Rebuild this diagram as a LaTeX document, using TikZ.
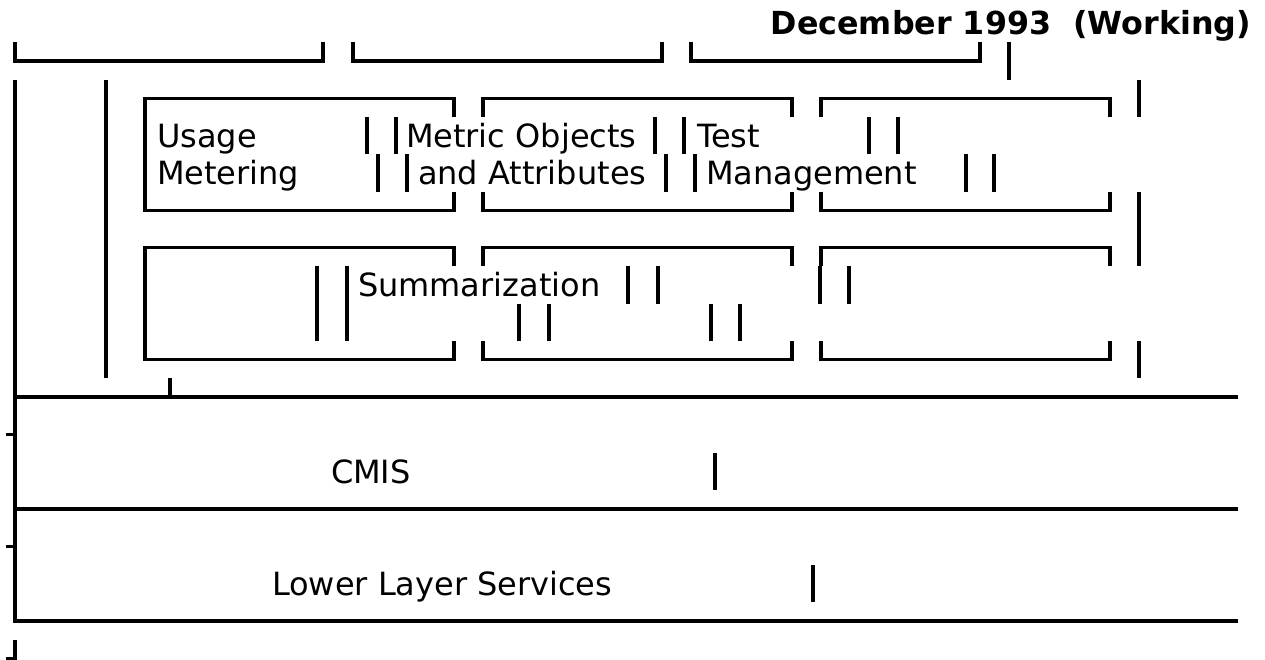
\documentclass[tikz,border=0pt]{standalone}
\usepackage{fontspec}
\setmainfont{DejaVu Sans}
\begin{document}
\begin{tikzpicture}[x=0.75pt,y=-0.75pt,
  ln/.style={line width=2.3pt,line join=miter},
  lbl/.style={inner sep=0pt,outer sep=0pt,anchor=base west,font=\fontsize{24}{28}\selectfont},
  ttl/.style={inner sep=0pt,outer sep=0pt,anchor=base east,font=\fontsize{23.8}{28}\selectfont\bfseries}]
\useasboundingbox (0,0) rectangle (1265,660);
% ---- texts
\node[ttl] (title) at (1251,35) {December 1993~~(Working)};
\node[lbl] (usage) at (157,147) {Usage};
\node[lbl] (metering) at (157,184.33) {Metering};
\node[lbl] (metric) at (406,147) {Metric Objects};
\node[lbl] (attr) at (418,184.33) {and Attributes};
\node[lbl] (test) at (697,147) {Test};
\node[lbl] (mgmt) at (706,184.33) {Management};
\node[lbl] (summ) at (358,296.33) {Summarization};
\node[lbl] (cmis) at (331,483) {CMIS};
\node[lbl] (lls) at (272,595) {Lower Layer Services};
% ---- top brackets
\draw[ln] (15,42.33) -- (15,61) -- (323,61) -- (323,42.33);
\draw[ln] (353,42.33) -- (353,61) -- (662,61) -- (662,42.33);
\draw[ln] (691,42.33) -- (691,61) -- (980,61) -- (980,42.33);
\draw[ln] (1009,42.33) -- (1009,79.67);
% ---- outer frame and layers
\draw[ln] (15,79.67) -- (15,621) -- (1238,621);
\draw[ln] (15,397) -- (1238,397);
\draw[ln] (15,509) -- (1238,509);
\draw[ln] (6,434.33) -- (15,434.33);
\draw[ln] (6,546.33) -- (15,546.33);
\draw[ln] (15,639.67) -- (15,658.33) -- (6,658.33);
\draw[ln] (106,79.67) -- (106,378.33);
\draw[ln] (1139,79.67) -- (1139,117);
\draw[ln] (1139,191.67) -- (1139,266.33);
\draw[ln] (1139,341) -- (1139,378.33);
\draw[ln] (170,378.33) -- (170,397);
% ---- upper row of boxes
\draw[ln] (454,117) -- (454,98.33) -- (145,98.33) -- (145,210.33) -- (454,210.33) -- (454,191.67);
\draw[ln] (483,117) -- (483,98.33) -- (792,98.33) -- (792,117);
\draw[ln] (483,191.67) -- (483,210.33) -- (792,210.33) -- (792,191.67);
\draw[ln] (821,117) -- (821,98.33) -- (1110,98.33) -- (1110,117);
\draw[ln] (821,191.67) -- (821,210.33) -- (1110,210.33) -- (1110,191.67);
% ---- lower row of boxes
\draw[ln] (454,266.33) -- (454,247.67) -- (145,247.67) -- (145,359.67) -- (454,359.67) -- (454,341);
\draw[ln] (483,266.33) -- (483,247.67) -- (792,247.67) -- (792,266.33);
\draw[ln] (483,341) -- (483,359.67) -- (792,359.67) -- (792,341);
\draw[ln] (821,266.33) -- (821,247.67) -- (1110,247.67) -- (1110,266.33);
\draw[ln] (821,341) -- (821,359.67) -- (1110,359.67) -- (1110,341);
% ---- stray bars
\foreach \x in {367,396,655,684,869,898} \draw[ln] (\x,117) -- (\x,154.33);
\foreach \x in {378,407,666,695,966,994} \draw[ln] (\x,154.33) -- (\x,191.67);
\foreach \x in {628,658,820,849} \draw[ln] (\x,266.33) -- (\x,303.67);
\foreach \x in {317,347} \draw[ln] (\x,266.33) -- (\x,341);
\foreach \x in {519,549,711,740} \draw[ln] (\x,303.67) -- (\x,341);
\draw[ln] (715,453) -- (715,490.33);
\draw[ln] (813,565) -- (813,602.33);
\end{tikzpicture}
\end{document}
